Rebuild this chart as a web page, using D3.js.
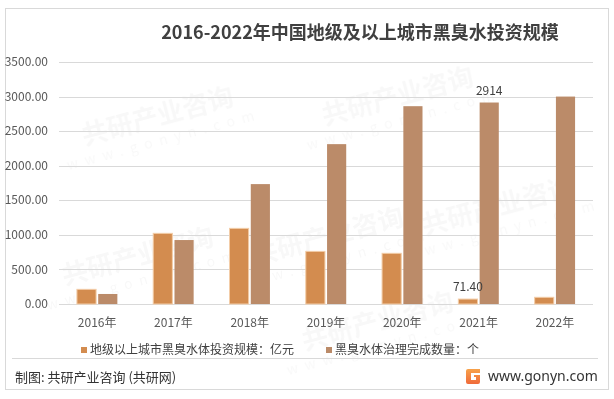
<!DOCTYPE html>
<html><head><meta charset="utf-8">
<script src="https://cdn.jsdelivr.net/npm/d3@7"></script>
<style>
html,body{margin:0;padding:0;background:#fff;}
svg{display:block;font-family:"Noto Sans CJK SC","Noto Sans",sans-serif;}
</style></head>
<body><svg id="c" width="614" height="399"></svg>
<script>
const years = ["2016年","2017年","2018年","2019年","2020年","2021年","2022年"];
const investment = [212, 1022, 1094, 761, 733, 71.40, 97];
const completed = [145, 925, 1734, 2312, 2861, 2914, 3000];
const seriesNames = ["地级以上城市黑臭水体投资规模：亿元", "黑臭水体治理完成数量：个"];
const yTicks = [0, 500, 1000, 1500, 2000, 2500, 3000, 3500];
const title = "2016-2022年中国地级及以上城市黑臭水投资规模";
const source = "制图: 共研产业咨询 (共研网)";
const site = "www.gonyn.com";
const colors = ["#D38C4F", "#BB8B69"];

const svg = d3.select("#c");

// watermarks
const wm = svg.append("g").attr("fill", "#000").attr("opacity", 0.03)
  .attr("font-weight", "bold");
const wmPos = [[160,125],[400,105],[500,215],[140,265],[330,245],[380,330]];
wmPos.forEach(([x,y]) => {
  const g = wm.append("g").attr("transform", `translate(${x},${y}) rotate(-15)`);
  g.append("text").attr("text-anchor","middle").attr("font-size", 26).text("共研产业咨询");
  g.append("text").attr("text-anchor","middle").attr("y", 20).attr("font-size", 14)
    .attr("font-weight","normal").attr("letter-spacing", 7).text("www.gonyn.com");
});

// frame
svg.append("rect").attr("x", 5.5).attr("y", 8.5).attr("width", 603).attr("height", 381)
  .attr("fill", "none").attr("stroke", "#d9d9d9");

svg.append("text").attr("x", 360).attr("y", 39).attr("text-anchor", "middle")
  .attr("font-size", 18).attr("font-weight", "bold").attr("fill", "#404040").text(title);

const x = d3.scaleBand().domain(years).range([59, 593]).padding(0);
const xs = d3.scaleBand().domain([0, 1])
  .range([x.bandwidth() * 0.235, x.bandwidth() * 0.765]).paddingInner(0.1);
const y = d3.scaleLinear().domain([0, 3500]).range([304, 62]);

// grid
svg.append("g").selectAll("line").data(yTicks).join("line")
  .attr("x1", 59).attr("x2", 593)
  .attr("y1", d => Math.round(y(d)) + 0.5).attr("y2", d => Math.round(y(d)) + 0.5)
  .attr("stroke", "#d9d9d9");

// y labels
svg.append("g").selectAll("text").data(yTicks).join("text")
  .attr("x", 48).attr("y", d => y(d)).attr("dy", "0.35em").attr("text-anchor", "end")
  .attr("font-size", 12).attr("fill", "#595959").text(d => d3.format(".2f")(d));

// bars
const data = years.map((yr, i) => ({ yr, vals: [investment[i], completed[i]] }));
const grp = svg.append("g").selectAll("g").data(data).join("g")
  .attr("transform", d => `translate(${x(d.yr)},0)`);
grp.selectAll("rect").data(d => d.vals.map((v, k) => ({ v, k }))).join("rect")
  .attr("x", d => xs(d.k)).attr("width", xs.bandwidth())
  .attr("y", d => y(d.v)).attr("height", d => y(0) - y(d.v))
  .attr("fill", d => colors[d.k])
  .attr("stroke", d => d.k === 0 ? "#F3CDA8" : "none").attr("stroke-width", 1);

// x labels
svg.append("g").selectAll("text").data(years).join("text")
  .attr("x", d => x(d) + x.bandwidth() / 2).attr("y", 323).attr("dy", "0.35em")
  .attr("text-anchor", "middle").attr("font-size", 12).attr("fill", "#595959").text(d => d);

// data labels for 2021
const i21 = years.indexOf("2021年");
svg.append("text").attr("x", x(years[i21]) + xs(0) + xs.bandwidth() / 2)
  .attr("y", y(investment[i21]) - 8).attr("text-anchor", "middle")
  .attr("font-size", 12).attr("fill", "#404040").text(d3.format(".2f")(investment[i21]));
svg.append("text").attr("x", x(years[i21]) + xs(1) + xs.bandwidth() / 2)
  .attr("y", y(completed[i21]) - 8).attr("text-anchor", "middle")
  .attr("font-size", 12).attr("fill", "#404040").text(completed[i21]);

// legend
const legX = [81, 326];
seriesNames.forEach((n, k) => {
  svg.append("rect").attr("x", legX[k]).attr("y", 347).attr("width", 6).attr("height", 6)
    .attr("fill", colors[k]);
  svg.append("text").attr("x", legX[k] + 9).attr("y", 350).attr("dy", "0.35em")
    .attr("font-size", 12).attr("fill", "#404040").text(n);
});

// separator
svg.append("line").attr("x1", 12).attr("x2", 598).attr("y1", 358.5).attr("y2", 358.5)
  .attr("stroke", "#d9d9d9");

// footer
svg.append("text").attr("x", 15).attr("y", 377).attr("dy", "0.35em")
  .attr("font-size", 13).attr("fill", "#333").text(source);
const lg = svg.append("g").attr("transform", "translate(466,369)");
const grad = svg.append("defs").append("linearGradient").attr("id", "lg")
  .attr("x1", 0).attr("y1", 0).attr("x2", 0).attr("y2", 1);
grad.append("stop").attr("offset", 0).attr("stop-color", "#F7A24A");
grad.append("stop").attr("offset", 1).attr("stop-color", "#F06A3A");
lg.append("path").attr("d", "M0,2 Q0,0 2,0 L14,0 L14,4 L5,4 L5,11 L10,11 L10,8 L8,8 L8,6 L14,6 L14,13 Q14,15 12,15 L2,15 Q0,15 0,13 Z")
  .attr("fill", "url(#lg)");
svg.append("text").attr("x", 488).attr("y", 376).attr("dy", "0.35em")
  .attr("font-size", 14).attr("fill", "#333").attr("font-family", "'Noto Sans','DejaVu Sans',sans-serif").text(site);
</script></body></html>
